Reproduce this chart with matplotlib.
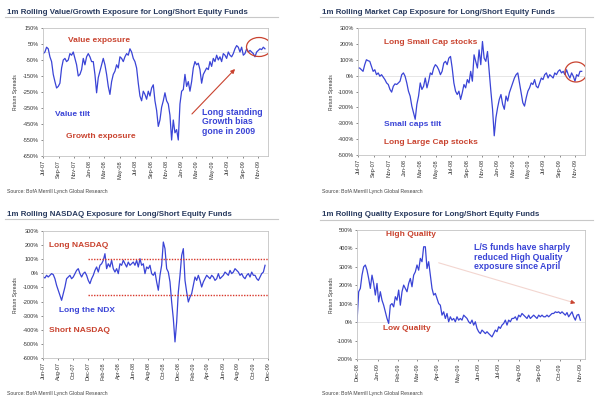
import numpy as np
import pandas as pd
import matplotlib
matplotlib.use('Agg')
import matplotlib.pyplot as plt
import matplotlib.dates as mdates
import matplotlib.patches as patches
from matplotlib.lines import Line2D
from matplotlib.ticker import FuncFormatter

plt.rcParams['font.family'] = ['Liberation Sans', 'DejaVu Sans']

BLUE = '#3a44d6'
RED = '#c9432f'
TITLE = '#283a5e'

# weekly-ish readings, Jul-07 .. Nov-09
value_growth = [
    -10, 0, 30, 20, -30, -60, -140, -185, -225, -215,
    -195, -100, -50, -40, -60, -50, -10, -20, 0, -40,
    -80, -150, -140, -110, -40, -80, -30, -10, -30, -60,
    -60, -140, -255, -160, -120, -80, -40, -80, -140, -215,
    -265, -185, -140, -120, -80, -100, -30, -40, -60, -30,
    -10, -20, 20, 0, -40, -60, -100, -195, -275, -305,
    -245, -265, -295, -245, -275, -225, -205, -305, -365, -465,
    -425, -345, -305, -255, -305, -325, -395, -550, -425, -505,
    -485, -550, -325, -245, -235, -140, -215, -185, -245, -185,
    -100, -60, -80, -70, -110, -195, -140, -120, -100, -110,
    -60, -90, -40, -60, -20, -50, -30, -60, -10, -20,
    -40, 0, -20, -30, -10, 20, 40, 30, 0, 30,
    -20, -10, 20, 0, 10, 0, -10, -30, 0, 10,
    20, 15, 30, 20,
]

market_cap = [
    48, 48, 37, 27, 69, 100, 94, 90, 58, 27,
    37, 6, 17, -4, 6, -10, -25, -46, -56, -87,
    -104, -67, -52, -56, -46, -35, 6, 17, -4, -46,
    -98, -129, -192, -233, -275, -181, -129, -46, -87, -67,
    -15, -77, -35, 17, 6, 48, 69, 58, 37, 6,
    27, 79, 90, 69, 110, 121, 48, -46, -98, -119,
    -98, -150, -108, -56, -77, -25, -46, 27, -35, 131,
    90, 48, 162, 69, 215, 110, 90, 152, 27, -98,
    -212, -379, -265, -202, -150, -119, -181, -212, -129, -160,
    -108, -77, -46, -15, 6, 17, -46, -108, -171, -192,
    -140, -98, -77, -46, -56, -25, -67, -77, -46, -15,
    -25, 6, 17, -15, 6, -4, -15, 17, 6, 27,
    37, 17, 27, 6, 37, 6, -15, 17, -4, -35,
    6, -4, 27, 27,
]

nasdaq = [
    -26, -33, -14, -26, -14, -2, -9, -38, -85, -120,
    -156, -191, -144, -97, -38, -26, -14, -38, -26, -2,
    21, 33, -2, -26, -2, 9, -14, -50, -73, -38,
    -14, 21, 45, 9, 57, 68, 92, 139, 33, 68,
    45, 92, 33, 9, 33, -2, 68, 57, 92, 68,
    45, 80, 57, 68, 80, 57, 92, 45, 104, 57,
    68, -2, 45, 33, 57, -2, -14, 9, -61, -120,
    -14, 57, 222, 175, 33, 9, -61, -203, -321, -486,
    -345, -132, -14, 127, 175, -50, -132, -203, -168, -144,
    -85, -26, -50, -14, -50, -97, -61, -38, -14, -26,
    -38, -14, -26, -50, -38, -2, -38, -26, -14, 9,
    -2, -14, 21, -2, 9, 33, 21, 9, -14, -2,
    -26, -38, -14, -2, -26, 9, -14, -14, -38, -50,
    -26, -2, 9, 57,
]
nasdaq_band = [100, -150]

quality = [
    0, 165, 183, 255, 300, 310, 282, 237, 183, 255,
    210, 147, 210, 110, 165, 119, 92, 56, 20, -7,
    92, 101, 83, 138, 119, 174, 92, 165, 201, 183,
    165, 210, 237, 192, 255, 273, 310, 282, 346, 328,
    409, 409, 291, 328, 255, 183, 147, 156, 128, 101,
    92, 38, 56, 20, 47, 2, 29, 11, 20, 2,
    29, 11, 20, 11, 38, 29, 20, 2, -7, 11,
    -16, 2, -34, -52, -62, -43, -52, -62, -52, -62,
    -71, -80, -62, -43, -52, -25, -34, -16, -7, 11,
    -16, 11, 2, 20, 20, 29, 11, 38, 29, 47,
    38, 29, 20, 38, 20, 29, 38, 29, 20, 38,
    29, 38, 29, 29, 38, 29, 38, 47, 47, 56,
    52, 56, 47, 56, 47, 38, 52, 29, 42, 56,
    29, 11, 38, 42, 11,
]

value_growth_dates = pd.date_range('2007-07-02', '2009-11-28', periods=len(value_growth))
market_cap_dates = pd.date_range('2007-07-01', '2009-11-27', periods=len(market_cap))
nasdaq_dates = pd.date_range('2007-06-02', '2009-11-19', periods=len(nasdaq))
quality_dates = pd.date_range('2008-12-01', '2009-11-01', periods=len(quality))

titles = [
    '1m Rolling Value/Growth Exposure for Long/Short Equity Funds',
    '1m Rolling Market Cap Exposure for Long/Short Equity Funds',
    '1m Rolling NASDAQ Exposure for Long/Short Equity Funds',
    '1m Rolling Quality Exposure for Long/Short Equity Funds',
]
source = 'Source: BofA Merrill Lynch Global Research'

fig = plt.figure(figsize=(6, 4), dpi=100)


def fp(x, y):
    return x / 600, 1 - y / 400


def make_axes(l, t, r, b):
    return fig.add_axes([l / 600, 1 - b / 400, (r - l) / 600, (b - t) / 400])


def note(x, y, s, color, size=6, **kw):
    fig.text(*fp(x, y), s, color=color, fontsize=size, fontweight='bold',
             va='center', **kw)


def panel(ax, dates, vals, ylim, ystep, xlim, months):
    ax.axhline(0, color='#dcdcdc', lw=0.5, zorder=0)
    ax.plot(dates, vals, color=BLUE, lw=0.9)
    ax.set_ylim(*ylim)
    ax.set_yticks(np.arange(ylim[0], ylim[1] + 1, ystep))
    ax.yaxis.set_major_formatter(FuncFormatter(lambda v, p: '%d%%' % v))
    ax.set_xlim(pd.Timestamp(xlim[0]), pd.Timestamp(xlim[1]))
    ax.xaxis.set_major_locator(mdates.MonthLocator(bymonth=months))
    ax.xaxis.set_major_formatter(mdates.DateFormatter('%b-%y'))
    ax.tick_params(axis='x', labelrotation=90)
    ax.tick_params(labelsize=4, colors='#333333', length=1.5, width=0.4, pad=1.5)
    for s in ax.spines.values():
        s.set_color('#c4c4c4')
        s.set_linewidth(0.6)


def header(x, y, title, src_y, ylab_x, ylab_y):
    fig.text(*fp(x, y), title, fontsize=5.7, color=TITLE, va='center', fontweight='bold')
    fig.add_artist(Line2D([(x - 2) / 600, (x + 271) / 600], [1 - (y + 5) / 400] * 2,
                          color='#c8c8c8', lw=0.8))
    fig.text(*fp(x, src_y), source, fontsize=3.7, color='#444444', va='center')
    fig.text(*fp(ylab_x, ylab_y), 'Return Spreads', fontsize=3.6, color='#333333',
             rotation=90, va='center', ha='center')


def circle(ax, x, y, w, h):
    e = patches.Ellipse(fp(x, y), w / 600, h / 400, transform=fig.transFigure,
                        fill=False, ec=RED, lw=0.9)
    fig.add_artist(e)
    e.set_clip_path(ax.patch)


odd_months = [1, 3, 5, 7, 9, 11]
even_months = [2, 4, 6, 8, 10, 12]

# Value / Growth
ax1 = make_axes(43, 28, 268, 156)
panel(ax1, value_growth_dates, value_growth, (-650, 150), 100,
      ('2007-07-01', '2009-12-10'), odd_months)
header(7, 12, titles[0], 192, 15, 92)
note(68, 40, 'Value exposure', RED)
note(55, 115, 'Value tilt', BLUE)
note(66, 137, 'Growth exposure', RED)
note(202, 122, 'Long standing\nGrowth bias\ngone in 2009', BLUE, size=6.3, linespacing=1.05)
circle(ax1, 259, 47, 25, 19)
ax1.annotate('', xy=(237, 400 - 67), xytext=(190, 400 - 116), xycoords='figure pixels',
             arrowprops=dict(arrowstyle='-|>', color=RED, lw=0.8, mutation_scale=6))

# Market cap
ax2 = make_axes(358, 28, 585, 155)
panel(ax2, market_cap_dates, market_cap, (-500, 300), 100,
      ('2007-07-01', '2009-12-10'), odd_months)
header(322, 12, titles[1], 192, 332, 92)
note(384, 43, 'Long Small Cap stocks', RED)
note(384, 124, 'Small caps tilt', BLUE)
note(384, 143, 'Long Large Cap stocks', RED)
circle(ax2, 576, 72, 22, 20)

# NASDAQ
ax3 = make_axes(43, 231, 268, 358)
panel(ax3, nasdaq_dates, nasdaq, (-600, 300), 100,
      ('2007-06-01', '2009-12-01'), even_months)
for lvl in nasdaq_band:
    ax3.plot([pd.Timestamp('2007-12-01'), pd.Timestamp('2009-12-01')], [lvl, lvl],
             color='#d8382c', lw=1.0, ls=(0, (1, 1)))
header(7, 214, titles[2], 394, 15, 295)
note(49, 245, 'Long NASDAQ', RED)
note(59, 310, 'Long the NDX', BLUE)
note(49, 331, 'Short NASDAQ', RED)

# Quality
ax4 = make_axes(357, 230, 585, 359)
panel(ax4, quality_dates, quality, (-200, 500), 100,
      ('2008-12-01', '2009-11-08'), list(range(1, 13)))
header(322, 215, titles[3], 394, 332, 295)
note(386, 235, 'High Quality', RED)
note(474, 257, 'L/S funds have sharply\nreduced High Quality\nexposure since April', BLUE,
     size=6.3, linespacing=1.05)
note(383, 328, 'Low Quality', RED)
ax4.annotate('', xy=(575, 400 - 303), xytext=(436, 400 - 262), xycoords='figure pixels',
             arrowprops=dict(arrowstyle='-', color='#f3d6d0', lw=0.8))
ax4.annotate('', xy=(578, 400 - 304), xytext=(568, 400 - 301), xycoords='figure pixels',
             arrowprops=dict(arrowstyle='-|>', color=RED, lw=0.6, mutation_scale=6))

fig.savefig('out.png', dpi=100)
